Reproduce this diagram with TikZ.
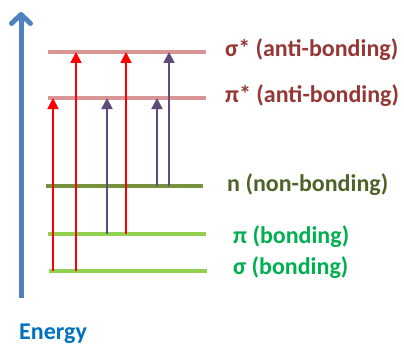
\documentclass[tikz,border=0pt]{standalone}
\usepackage{fontspec}
\setmainfont{Carlito}
\usetikzlibrary{arrows.meta,positioning}
\definecolor{antiline}{HTML}{D99594}
\definecolor{antitext}{HTML}{953735}
\definecolor{nonline}{HTML}{76923C}
\definecolor{nontext}{HTML}{4F6228}
\definecolor{bondline}{HTML}{92D050}
\definecolor{bondtext}{HTML}{00B050}
\definecolor{pipurple}{HTML}{604A7B}
\definecolor{axisblue}{HTML}{4F81BD}
\definecolor{energyblue}{HTML}{0070C0}

\begin{document}
\begin{tikzpicture}[x=1pt,y=-1pt,
  level/.style={line width=4.5pt},
  redup/.style={draw=red,line width=1.8pt,-{Triangle[width=11pt,length=11pt]}},
  purpleup/.style={draw=pipurple,line width=1.8pt,-{Triangle[width=11pt,length=11pt]}},
  lbl/.style={anchor=west,inner sep=0pt,font=\bfseries\fontsize{24}{28}\selectfont}]
\useasboundingbox (0,0) rectangle (404,345);
% energy axis
\coordinate (ebot) at (21,298);
\coordinate (etop) at (21,12);
\draw[axisblue,line width=5pt,-{Straight Barb[round,length=9pt,width=19pt]}] (ebot) -- (etop);
\node[lbl,text=energyblue] (energy) at (19,334) {Energy};
% levels
\coordinate (sstar) at (48,52);
\coordinate (pstar) at (48,98);
\coordinate (n) at (46,186);
\coordinate (p) at (48,234);
\coordinate (s) at (49,271);
\draw[level,antiline] (sstar) -- ++(158,0);
\draw[level,antiline] (pstar) -- ++(158,0);
\draw[level,nonline] (n) -- ++(157,0);
\draw[level,bondline] (p) -- ++(158,0);
\draw[level,bondline] (s) -- ++(158,0);
% labels
\node[lbl,text=antitext] (sslbl) at (225,50) {σ* (anti-bonding)};
\node[lbl,text=antitext] (pslbl) at (225,96) {π* (anti-bonding)};
\node[lbl,text=nontext] (nlbl) at (227,185) {n (non-bonding)};
\node[lbl,text=bondtext] (plbl) at (233,237) {π (bonding)};
\node[lbl,text=bondtext] (slbl) at (233,268) {σ (bonding)};
% transitions
\draw[redup] (53,0 |- s) -- (53,0 |- pstar);      % s -> p*
\draw[redup] (76,0 |- s) -- (76,0 |- sstar);      % s -> s*
\draw[purpleup] (107,0 |- p) -- (107,0 |- pstar); % p -> p*
\draw[redup] (126,0 |- p) -- (126,0 |- sstar);    % p -> s*
\draw[purpleup] (157,0 |- n) -- (157,0 |- pstar); % n -> p*
\draw[purpleup] (169,0 |- n) -- (169,0 |- sstar); % n -> s*
\end{tikzpicture}
\end{document}
